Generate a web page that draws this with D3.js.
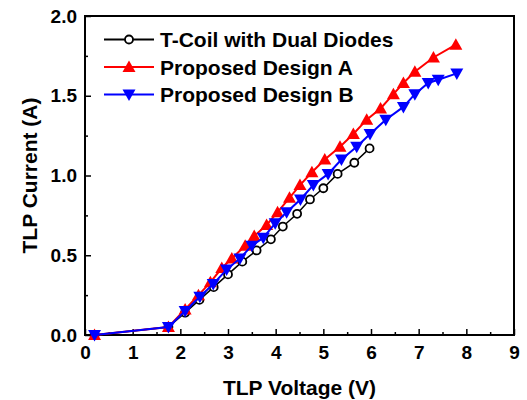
<!DOCTYPE html>
<html lang="en">
<head>
<meta charset="UTF-8"/>
<title>TLP I-V</title>
<script src="https://cdnjs.cloudflare.com/ajax/libs/d3/7.8.5/d3.min.js"></script>
<style>
    body { margin: 0; background: #fff; }
    text { font-family: Arial, "Liberation Sans", sans-serif; font-weight: bold; }
</style>
</head>
<body>
<div id="chart"></div>
<script>
    // Data
    const seriesNames = ["T-Coil with Dual Diodes", "Proposed Design A", "Proposed Design B"];

    const tcoilV = [0.2, 1.75, 2.1, 2.4, 2.7, 3.0, 3.3, 3.6, 3.9, 4.15, 4.45, 4.72, 5.0, 5.3, 5.65, 5.97];
    const tcoilI = [0, 0.05, 0.14, 0.22, 0.30, 0.38, 0.46, 0.53, 0.60, 0.68, 0.76, 0.85, 0.92, 1.01, 1.08, 1.17];

    const designAV = [0.2, 1.75, 2.1, 2.38, 2.63, 2.87, 3.08, 3.36, 3.55, 3.81, 4.04, 4.29, 4.51, 4.76, 5.03, 5.35, 5.63, 5.91, 6.2, 6.47, 6.68, 6.92, 7.31, 7.78];
    const designAI = [0, 0.05, 0.16, 0.25, 0.33, 0.42, 0.48, 0.56, 0.62, 0.69, 0.77, 0.86, 0.94, 1.02, 1.10, 1.18, 1.26, 1.35, 1.42, 1.51, 1.58, 1.65, 1.74, 1.82];

    const designBV = [0.2, 1.75, 2.1, 2.41, 2.69, 2.97, 3.25, 3.5, 3.74, 3.99, 4.23, 4.52, 4.79, 5.1, 5.38, 5.7, 5.98, 6.31, 6.68, 6.92, 7.2, 7.41, 7.8];
    const designBI = [0, 0.05, 0.15, 0.24, 0.32, 0.41, 0.48, 0.56, 0.61, 0.70, 0.77, 0.85, 0.94, 1.01, 1.10, 1.18, 1.26, 1.35, 1.43, 1.51, 1.58, 1.60, 1.64];

    const xTicks = [0, 1, 2, 3, 4, 5, 6, 7, 8, 9];
    const yTicks = [0.0, 0.5, 1.0, 1.5, 2.0];

    const width = 527;
    const height = 400;
    const margin = {top: 16, right: 13, bottom: 65, left: 85};

    const svg = d3.select("#chart")
        .append("svg")
        .attr("width", width)
        .attr("height", height);

    const xScale = d3.scaleLinear().domain([0, 9]).range([margin.left, width - margin.right]);
    const yScale = d3.scaleLinear().domain([0, 2]).range([height - margin.bottom, margin.top]);

    // Minor + major ticks, pointing inward
    const xAxis = d3.axisBottom(xScale)
        .tickValues(xTicks)
        .tickFormat(d3.format("d"))
        .tickSizeInner(-6)
        .tickSizeOuter(0)
        .tickPadding(10);
    const xMinor = d3.axisBottom(xScale)
        .tickValues(d3.range(0.5, 9, 1))
        .tickFormat("")
        .tickSizeInner(-3)
        .tickSizeOuter(0);

    const yAxis = d3.axisLeft(yScale)
        .tickValues(yTicks)
        .tickFormat(d3.format(".1f"))
        .tickSizeInner(-6)
        .tickSizeOuter(0)
        .tickPadding(8);
    const yMinor = d3.axisLeft(yScale)
        .tickValues(d3.range(0.25, 2, 0.5))
        .tickFormat("")
        .tickSizeInner(-3)
        .tickSizeOuter(0);

    const gx = svg.append("g").attr("transform", `translate(0,${yScale(0)})`).call(xAxis);
    svg.append("g").attr("transform", `translate(0,${yScale(0)})`).call(xMinor);
    const gy = svg.append("g").attr("transform", `translate(${xScale(0)},0)`).call(yAxis);
    svg.append("g").attr("transform", `translate(${xScale(0)},0)`).call(yMinor);

    svg.selectAll(".domain").remove();
    svg.selectAll(".tick line").attr("stroke", "#000").attr("stroke-width", 1.5);
    svg.selectAll(".tick text").attr("font-size", 19).attr("fill", "#000");
    gx.selectAll(".tick text").attr("dy", "0.72em");

    // Frame
    svg.append("rect")
        .attr("x", xScale(0))
        .attr("y", yScale(2))
        .attr("width", xScale(9) - xScale(0))
        .attr("height", yScale(0) - yScale(2))
        .attr("fill", "none")
        .attr("stroke", "#000")
        .attr("stroke-width", 2);

    // Axis titles
    svg.append("text")
        .attr("x", (xScale(0) + xScale(9)) / 2)
        .attr("y", 395)
        .attr("text-anchor", "middle")
        .attr("font-size", 21)
        .text("TLP Voltage (V)");

    svg.append("text")
        .attr("transform", `translate(37,${(yScale(0) + yScale(2)) / 2}) rotate(-90)`)
        .attr("text-anchor", "middle")
        .attr("font-size", 21)
        .text("TLP Current (A)");

    const series = [
        {name: seriesNames[0], v: tcoilV, i: tcoilI, color: "#000000", marker: "circle"},
        {name: seriesNames[1], v: designAV, i: designAI, color: "#FF0000", marker: "up"},
        {name: seriesNames[2], v: designBV, i: designBI, color: "#0000FF", marker: "down"}
    ];

    const upTri = "M0,-6.5L6.5,5L-6.5,5Z";
    const downTri = "M0,6.5L6.5,-5L-6.5,-5Z";

    function drawMarker(g, s, x, y) {
        if (s.marker === "circle") {
            g.append("circle")
                .attr("cx", x).attr("cy", y).attr("r", 4)
                .attr("fill", "#fff")
                .attr("stroke", s.color)
                .attr("stroke-width", 1.8);
        } else {
            g.append("path")
                .attr("d", s.marker === "up" ? upTri : downTri)
                .attr("transform", `translate(${x},${y})`)
                .attr("fill", s.color);
        }
    }

    const line = d3.line().x(d => xScale(d[0])).y(d => yScale(d[1]));

    series.forEach(s => {
        const pts = s.v.map((v, k) => [v, s.i[k]]);
        const g = svg.append("g");
        g.append("path")
            .datum(pts)
            .attr("d", line)
            .attr("fill", "none")
            .attr("stroke", s.color)
            .attr("stroke-width", s.marker === "circle" ? 1.5 : 2);
        pts.forEach(p => drawMarker(g, s, xScale(p[0]), yScale(p[1])));
    });

    // Legend
    const legend = svg.append("g");
    series.forEach((s, k) => {
        const y = 39.5 + k * 27.5;
        legend.append("line")
            .attr("x1", 104).attr("x2", 154)
            .attr("y1", y).attr("y2", y)
            .attr("stroke", s.color)
            .attr("stroke-width", s.marker === "circle" ? 1.8 : 2);
        drawMarker(legend, s, 129, y);
        legend.append("text")
            .attr("x", 160)
            .attr("y", y)
            .attr("dy", "0.36em")
            .attr("font-size", 21)
            .text(s.name);
    });
</script>
</body>
</html>
